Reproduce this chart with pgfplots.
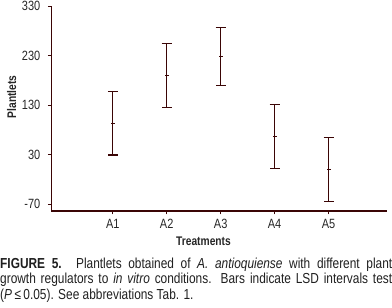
\documentclass[border=0pt]{standalone}
\usepackage{pgfplots}
\pgfplotsset{compat=1.18}
\usepackage{pgfplotstable}
\usepackage{fontspec}
\setmainfont{Liberation Sans}[FakeStretch=0.82]
\definecolor{barc}{HTML}{3A0505}
\pgfplotstableread{
x y e
1 93.5 64.5
2 190 64.6
3 228.5 58.5
4 67 64.7
5 0 65
}\lsddata
\begin{document}
\begin{tikzpicture}
\begin{axis}[
  at={(51.3pt,97pt)}, anchor=south west,
  scale only axis, width=336pt, height=205pt,
  xmin=-0.14, xmax=6.09, ymin=-84, ymax=330,
  axis lines=left, axis line style={-, line width=1.1pt, color=barc},
  xtick={1,2,3,4,5}, xticklabels={A1,A2,A3,A4,A5},
  ytick={-70,30,130,230,330},
  tick align=outside,
  major tick length=3.5pt,
  tick style={line width=1pt, color=barc},
  /pgf/number format/assume math mode=true,
  tick label style={font=\fontsize{13.4}{15}\selectfont, color=black!85},
  yticklabel style={xshift=-4pt},
  xticklabel style={yshift=-1.5pt},
  xlabel={\textbf{Treatments}},
  ylabel={\textbf{Plantlets}},
  label style={font=\fontsize{12.5}{14}\selectfont, color=black!85},
  xlabel style={at={(axis description cs:0.453,-0.146)}, anchor=center},
  ylabel style={at={(axis description cs:-0.118,0.556)}, anchor=center},
  clip=false,
]
\addplot[color=barc, only marks, mark=-, mark size=2pt, mark options={line width=1.1pt},
  error bars/.cd, y dir=both, y explicit,
  error bar style={line width=1.2pt, color=barc},
  error mark options={rotate=90, line width=1.2pt, mark size=5pt, color=barc}]
  table[x=x, y=y, y error=e] {\lsddata};
\end{axis}
\node[anchor=north west, inner sep=0pt, text width=392pt, align=justify,
  font=\fontsize{14.5}{15.6}\selectfont, color=black!88] at (0pt,50.5pt)
  {\textbf{FIGURE 5.} Plantlets obtained of \textit{A. antioquiense} with different plant\linebreak
  growth regulators to \textit{in vitro} conditions. Bars indicate LSD intervals test\linebreak
  (\textit{P}\,≤\,0.05). See abbreviations Tab. 1.};
\pgfresetboundingbox
\path (0pt,0pt) rectangle (392pt,308pt);
\end{tikzpicture}
\end{document}
